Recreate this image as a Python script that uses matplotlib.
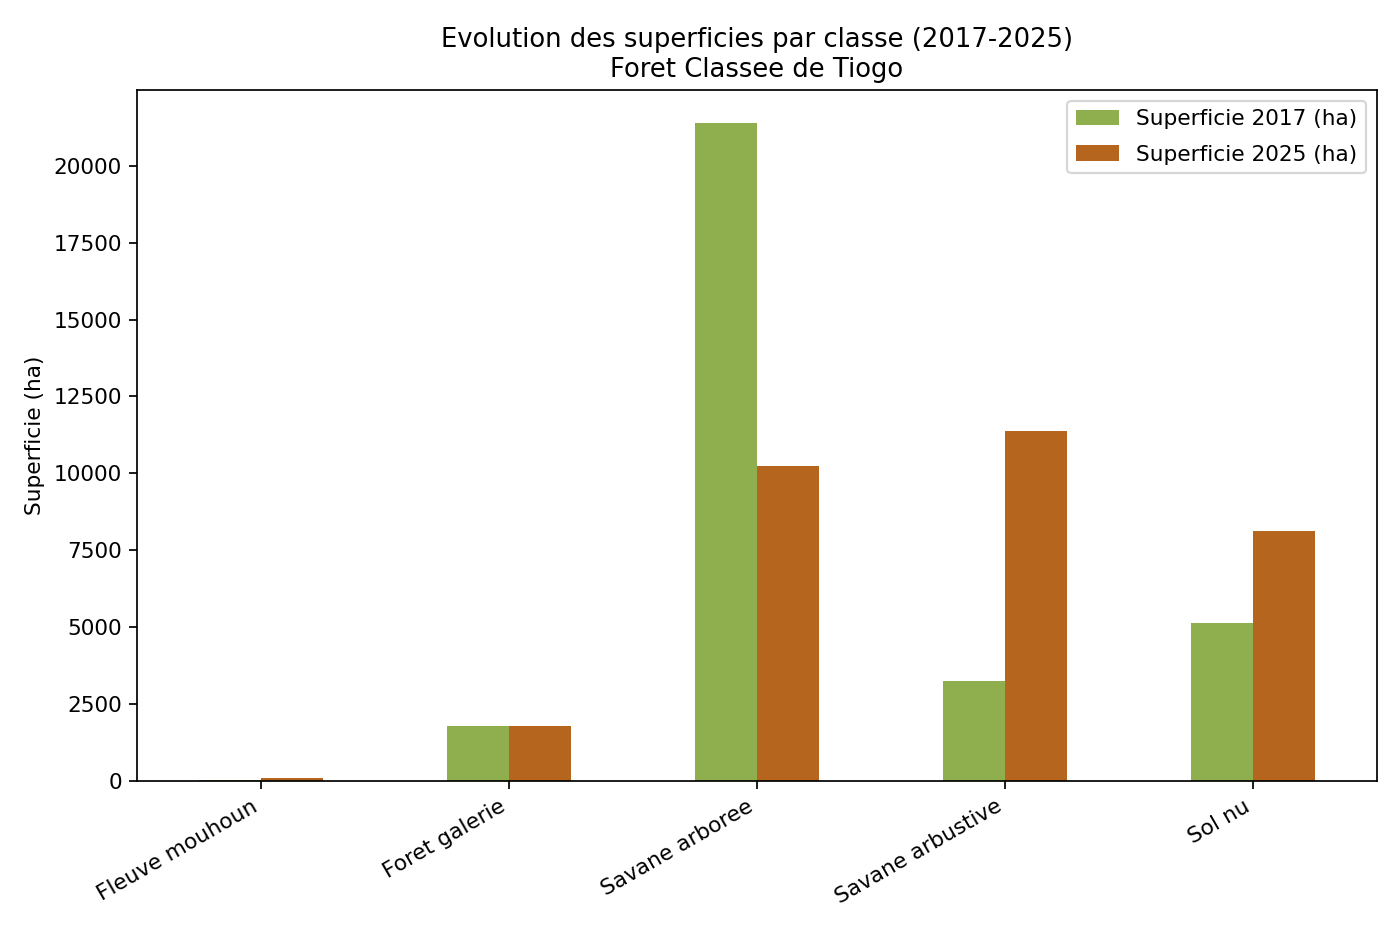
import matplotlib
matplotlib.use("Agg")
from matplotlib import pyplot as plt
import numpy as np

# ============== DONNEES ==============
classes = ["Fleuve mouhoun", "Foret galerie", "Savane arboree", "Savane arbustive", "Sol nu"]
sup_2017 = [45, 1780, 21390, 3260, 5130]
sup_2025 = [90, 1780, 10250, 11360, 8140]

col_2017 = "#8fae4e"
col_2025 = "#b5651e"

# ============== GRAPHIQUE ==============
dpi = 1400 / 9
fig, ax = plt.subplots(figsize=(9, 933 / dpi), dpi=dpi)

x = np.arange(len(classes))
w = 0.25
ax.bar(x - w / 2, sup_2017, width=w, color=col_2017, label="Superficie 2017 (ha)")
ax.bar(x + w / 2, sup_2025, width=w, color=col_2025, label="Superficie 2025 (ha)")

ax.set_xlim(-0.5, len(classes) - 0.5)
ax.set_xticks(x)
ax.set_xticklabels(classes, rotation=30, ha="right")
ax.set_ylabel("Superficie (ha)")
ax.set_title("Evolution des superficies par classe (2017-2025)\nForet Classee de Tiogo")
ax.legend(loc="upper right", labelspacing=0.7)

fig.subplots_adjust(left=137 / 1400, right=1377 / 1400, top=1 - 90 / 933, bottom=1 - 781 / 933)
plt.savefig("out.png", dpi=dpi)
